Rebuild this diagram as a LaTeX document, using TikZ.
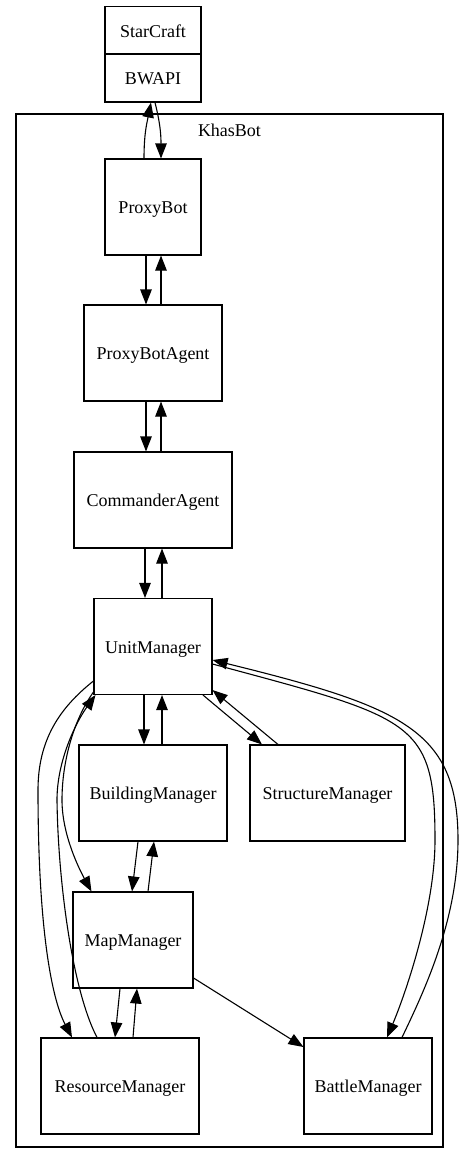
\documentclass[tikz,border=0pt]{standalone}
\usepackage{fontspec}
\setmainfont{Liberation Serif}
\usetikzlibrary{arrows.meta}
\begin{document}
\begin{tikzpicture}[x=1pt,y=-1pt,
  lbl/.style={font=\fontsize{18}{21}\selectfont,text height=15pt,text depth=1.4pt},
  cbox/.style={draw,line width=1.1pt,inner sep=0pt,minimum height=96pt,lbl},
  edge/.style={line width=1.1pt,-{Triangle[length=15pt,width=11.5pt]}}]
\useasboundingbox (0,0) rectangle (464,1163);
% cluster
\node[draw,line width=1.1pt,inner sep=0pt,minimum width=427pt,minimum height=1033pt] (kb) at (229.5,630.5) {};
\node[lbl,inner sep=0pt] (kbl) at (229.5,130) {KhasBot};
% record
\node[cbox,minimum width=96pt,minimum height=48pt] (sc) at (153,30.5) {StarCraft};
\node[cbox,minimum width=96pt,minimum height=48pt] (bw) at (153,78) {BWAPI};
% nodes
\node[cbox,minimum width=96pt]  (pb)  at (153,207)   {ProxyBot};
\node[cbox,minimum width=138pt] (pba) at (153,353)   {ProxyBotAgent};
\node[cbox,minimum width=158pt] (ca)  at (153,500)   {CommanderAgent};
\node[cbox,minimum width=118pt] (um)  at (153,646.5) {UnitManager};
\node[cbox,minimum width=148pt] (bm)  at (153,793)   {BuildingManager};
\node[cbox,minimum width=155pt] (sm)  at (327.5,793) {StructureManager};
\node[cbox,minimum width=120pt] (mm)  at (133,940)   {MapManager};
\node[cbox,minimum width=158pt] (rm)  at (120,1086)  {ResourceManager};
\node[cbox,minimum width=128pt] (bt)  at (368,1086)  {BattleManager};
% waypoints
\coordinate (w1) at (435,840);
\coordinate (w2) at (458,840);
\coordinate (w3) at (38,790);
\coordinate (w4) at (57,800);
\coordinate (w5) at (62,800);
% edges
\draw[edge] ([xshift=-9pt]pb.north) .. controls +(0,-25) and +(-4,20) .. ([xshift=-2pt]bw.south);
\draw[edge] ([xshift=2pt]bw.south) .. controls +(5,20) and +(0,-25) .. ([xshift=8pt]pb.north);
\draw[edge] ([xshift=-7pt]pb.south) -- ([xshift=-7pt]pba.north);
\draw[edge] ([xshift=8pt]pba.north) -- ([xshift=8pt]pb.south);
\draw[edge] ([xshift=-7pt]pba.south) -- ([xshift=-7pt]ca.north);
\draw[edge] ([xshift=8pt]ca.north) -- ([xshift=8pt]pba.south);
\draw[edge] ([xshift=-8pt]ca.south) -- ([xshift=-8pt]um.north);
\draw[edge] ([xshift=9pt]um.north) -- ([xshift=9pt]ca.south);
\draw[edge] ([xshift=-9pt]um.south) -- ([xshift=-9pt]bm.north);
\draw[edge] ([xshift=9pt]bm.north) -- ([xshift=9pt]um.south);
\draw[edge] ([xshift=50pt]um.south) -- ([xshift=-65.5pt]sm.north);
\draw[edge] ([xshift=-49.5pt]sm.north) -- ([yshift=5pt]um.south east);
\draw[edge] ([yshift=-17.5pt]um.east) .. controls +(200,54) and +(0,-120) .. (w1)
            .. controls +(0,70) and +(17,-40) .. ([xshift=19pt]bt.north);
\draw[edge] ([xshift=34pt]bt.north) .. controls +(22,-46) and +(0,80) .. (w2)
            .. controls +(0,-110) and +(190,47) .. ([yshift=-13.5pt]um.east);
\draw[edge] ([yshift=-34.5pt]um.west) .. controls +(-34,27) and +(0,-50) .. (w3)
            .. controls +(0,140) and +(-20,-38) .. ([xshift=-48pt]rm.north);
\draw[edge] ([xshift=-23pt]rm.north) .. controls +(-25,-48) and +(1,80) .. (w4)
            .. controls +(0,-40) and +(-19,26.5) .. ([xshift=2pt]um.south west);
\draw[edge] ([yshift=3pt]um.south west) .. controls +(-19,26.5) and +(0,-40) .. (w5)
            .. controls +(0,35) and +(-12,-22) .. ([xshift=19pt]mm.north west);
\draw[edge] ([xshift=-15pt]bm.south) -- ([xshift=-1pt]mm.north);
\draw[edge] ([xshift=15pt]mm.north) -- ([xshift=1pt]bm.south);
\draw[edge] ([xshift=-13pt]mm.south) -- ([xshift=-5pt]rm.north);
\draw[edge] ([xshift=13pt]rm.north) -- ([xshift=4pt]mm.south);
\draw[edge] ([yshift=-38pt]mm.east) -- ([yshift=39pt]bt.west);
\end{tikzpicture}
\end{document}
